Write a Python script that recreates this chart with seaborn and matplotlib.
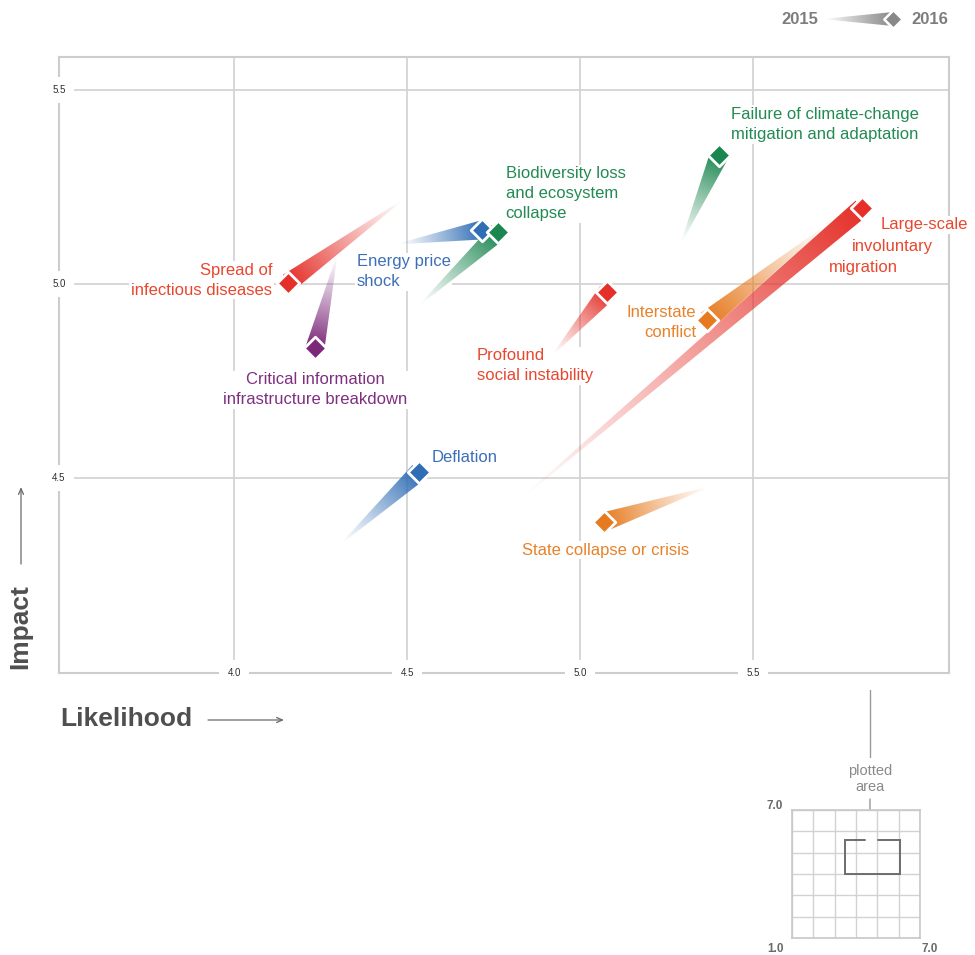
import numpy as np
import matplotlib
matplotlib.use("Agg")
import matplotlib.pyplot as plt
import matplotlib.colors as mcolors
import seaborn as sns
from matplotlib.patches import Polygon

# ---------------- data ----------------
risks = [
    "Spread of\ninfectious diseases",
    "Critical information\ninfrastructure breakdown",
    "Energy price\nshock",
    "Biodiversity loss\nand ecosystem\ncollapse",
    "Failure of climate-change\nmitigation and adaptation",
    "Large-scale\ninvoluntary\nmigration",
    "Interstate\nconflict",
    "Profound\nsocial instability",
    "State collapse or crisis",
    "Deflation",
]
category = ["societal", "technological", "economic", "environmental", "environmental",
            "societal", "geopolitical", "societal", "geopolitical", "economic"]
likelihood_2015 = [4.487, 4.297, 4.473, 4.536, 5.292, 4.825, 5.713, 4.920, 5.373, 4.311]
impact_2015 = [5.216, 5.072, 5.103, 4.946, 5.106, 4.443, 5.152, 4.817, 4.477, 4.332]
likelihood_2016 = [4.156, 4.234, 4.715, 4.764, 5.402, 5.814, 5.367, 5.079, 5.070, 4.534]
impact_2016 = [5.003, 4.835, 5.139, 5.134, 5.332, 5.196, 4.907, 4.979, 4.387, 4.515]

x_ticks = [4.0, 4.5, 5.0, 5.5]
x_ticklabels = ["4.0", "4.5", "5.0", "5.5"]
y_ticks = [4.5, 5.0, 5.5]
y_ticklabels = ["4.5", "5.0", "5.5"]
inset_labels = ["7.0", "1.0", "7.0"]
legend_years = ["2015", "2016"]

# ---------------- styles / layout ----------------
palette = {
    "societal": "#e52f28",
    "technological": "#7b2879",
    "economic": "#2f6db5",
    "environmental": "#1b8650",
    "geopolitical": "#e67a1e",
}
text_palette = {
    "societal": "#e8472f",
    "technological": "#7e2f80",
    "economic": "#3d6fb8",
    "environmental": "#228a53",
    "geopolitical": "#e8822a",
}
# (risk index, text, x, y, ha) in data coordinates
label_layout = [
    (0, risks[0], 4.110, 5.010, "right"),
    (1, risks[1], 4.234, 4.727, "center"),
    (2, risks[2], 4.355, 5.031, "left"),
    (3, risks[3], 4.785, 5.232, "left"),
    (4, risks[4], 5.436, 5.411, "left"),
    (5, "Large-scale", 5.869, 5.152, "left"),
    (5, "involuntary", 5.785, 5.097, "left"),
    (5, "migration", 5.719, 5.043, "left"),
    (6, risks[6], 5.335, 4.901, "right"),
    (7, risks[7], 4.701, 4.789, "left"),
    (8, risks[8], 4.831, 4.314, "left"),
    (9, risks[9], 4.571, 4.552, "left"),
]

W, H, DPI = 975, 955, 100
XLIM = (3.494, 6.066)
YLIM = (3.997, 5.585)

sns.set_theme(style="white")
plt.rcParams["font.family"] = ["Liberation Sans", "DejaVu Sans"]

fig = plt.figure(figsize=(W / DPI, H / DPI), dpi=DPI)
fig.patch.set_facecolor("white")


def px_rect(l, t, r, b):
    return [l / W, 1 - b / H, (r - l) / W, (b - t) / H]


ax = fig.add_axes(px_rect(59, 57, 949, 673))
ax.set_xlim(*XLIM)
ax.set_ylim(*YLIM)
ax.set_xticks(x_ticks)
ax.set_yticks(y_ticks)
ax.tick_params(length=0, labelbottom=False, labelleft=False)
ax.grid(True, color="#d4d4d4", lw=1.3)
ax.set_axisbelow(True)
for s in ax.spines.values():
    s.set_color("#cdcdcd")
    s.set_linewidth(1.5)

tick_bbox = dict(boxstyle="square,pad=0.85", fc="white", ec="none")
for v, lab in zip(x_ticks, x_ticklabels):
    ax.text(v, 0, lab, transform=ax.get_xaxis_transform(), ha="center", va="center",
            fontsize=7, color="#2e2e2e", bbox=tick_bbox, zorder=5, clip_on=False)
for v, lab in zip(y_ticks, y_ticklabels):
    ax.text(0, v, lab, transform=ax.get_yaxis_transform(), ha="center", va="center",
            fontsize=7, color="#2e2e2e", bbox=tick_bbox, zorder=5, clip_on=False)


def comet(a, tail, head, color, wmax_px, side_px, z=4, gamma=1.15, edge_pt=2.0):
    """Tapered gradient wedge from tail to head, capped by a diamond at the head."""
    tr = a.transData
    p0 = tr.transform(tail)
    p1 = tr.transform(head)
    v = p1 - p0
    d = v / np.hypot(*v)
    nrm = np.array([-d[1], d[0]])
    pe = p1
    half = wmax_px / 2
    poly_disp = np.array([p0 + nrm * 0.4, p0 - nrm * 0.4, pe - nrm * half, pe + nrm * half])
    poly = tr.inverted().transform(poly_disp)
    patch = Polygon(poly, closed=True, fc="none", ec="none", transform=a.transData)
    a.add_patch(patch)
    lo = poly.min(0)
    hi = poly.max(0)
    n = 240
    xs = np.linspace(lo[0], hi[0], n)
    ys = np.linspace(lo[1], hi[1], n)
    X, Y = np.meshgrid(xs, ys)
    disp = tr.transform(np.column_stack([X.ravel(), Y.ravel()]))
    seg = pe - p0
    t = ((disp - p0) @ seg) / np.dot(seg, seg)
    t = np.clip(t, 0, 1).reshape(n, n)
    rgba = np.zeros((n, n, 4))
    rgba[..., :3] = mcolors.to_rgb(color)
    rgba[..., 3] = t ** gamma
    im = a.imshow(rgba, extent=(lo[0], hi[0], lo[1], hi[1]), origin="lower",
                  aspect="auto", zorder=z, interpolation="bilinear")
    im.set_clip_path(patch)
    sns.scatterplot(x=[head[0]], y=[head[1]], marker="D", s=(side_px * 72 / DPI) ** 2,
                    color=color, edgecolor="white", linewidth=edge_pt, ax=a,
                    zorder=z + 1, legend=False)


for i in range(len(risks)):
    comet(ax, (likelihood_2015[i], impact_2015[i]), (likelihood_2016[i], impact_2016[i]),
          palette[category[i]], 19, 16)

for idx, txt, x, y, ha in label_layout:
    ax.text(x, y, txt, ha=ha, va="center", fontsize=12, linespacing=1.42,
            color=text_palette[category[idx]], zorder=3,
            bbox=dict(boxstyle="square,pad=0.1", fc="white", ec="none"))

ax.set_xlim(*XLIM)
ax.set_ylim(*YLIM)
ax.set_xlabel("")
ax.set_ylabel("")

# ---------------- overlay in pixel coordinates ----------------
ov = fig.add_axes([0, 0, 1, 1])
ov.set_xlim(0, W)
ov.set_ylim(H, 0)
ov.axis("off")
ov.patch.set_alpha(0)

ov.text(126, 719, "Likelihood", ha="center", va="center", fontsize=19,
        fontweight="bold", color="#4f4f4f")
ov.annotate("", xy=(284, 720), xytext=(208, 720),
            arrowprops=dict(arrowstyle="->,head_length=0.35,head_width=0.15",
                            color="#6a6a6a", lw=0.9, shrinkA=0, shrinkB=0))
ov.text(20, 627, "Impact", ha="center", va="center", rotation=90, fontsize=19,
        fontweight="bold", color="#4f4f4f")
ov.annotate("", xy=(21, 487), xytext=(21, 564),
            arrowprops=dict(arrowstyle="->,head_length=0.35,head_width=0.15",
                            color="#6a6a6a", lw=0.9, shrinkA=0, shrinkB=0))

# legend
ov.text(800, 19, legend_years[0], ha="center", va="center", fontsize=12,
        fontweight="bold", color="#7d7d7d")
ov.text(930, 19, legend_years[1], ha="center", va="center", fontsize=12,
        fontweight="bold", color="#7d7d7d")
comet(ov, (826, 19), (893, 19), "#888888", 14, 13, gamma=0.9, edge_pt=1.8)

# pointer to inset
ov.plot([870, 870], [690, 757], color="#9a9a9a", lw=1.0)
ov.text(870, 779, "plotted\narea", ha="center", va="center", fontsize=10.5,
        color="#8a8a8a", linespacing=1.15)
ov.annotate("", xy=(870, 862), xytext=(870, 799),
            arrowprops=dict(arrowstyle="->,head_length=0.3,head_width=0.12",
                            color="#8a8a8a", lw=0.9, shrinkA=0, shrinkB=0))
ov.text(775, 806, inset_labels[0], ha="center", va="center", fontsize=8.5,
        fontweight="bold", color="#6a6a6a")
ov.text(775, 949, inset_labels[1], ha="center", va="center", fontsize=8.5,
        fontweight="bold", color="#6a6a6a")
ov.text(930, 949, inset_labels[2], ha="center", va="center", fontsize=8.5,
        fontweight="bold", color="#6a6a6a")

# ---------------- inset ----------------
ins = fig.add_axes(px_rect(792, 810, 920, 938))
ins.set_xlim(1, 7)
ins.set_ylim(1, 7)
ins.set_xticks(range(1, 8))
ins.set_yticks(range(1, 8))
ins.tick_params(length=0, labelbottom=False, labelleft=False)
ins.grid(True, color="#d2d2d2", lw=1.0)
for s in ins.spines.values():
    s.set_color("#c8c8c8")
    s.set_linewidth(1.2)
xl, xr = XLIM
yb, yt = YLIM
ins.plot([4.4, xl, xl, xr, xr, 5.05], [yt, yt, yb, yb, yt, yt],
         color="#6d6d6d", lw=1.4, solid_joinstyle="miter")

fig.savefig("out.png", dpi=DPI)
